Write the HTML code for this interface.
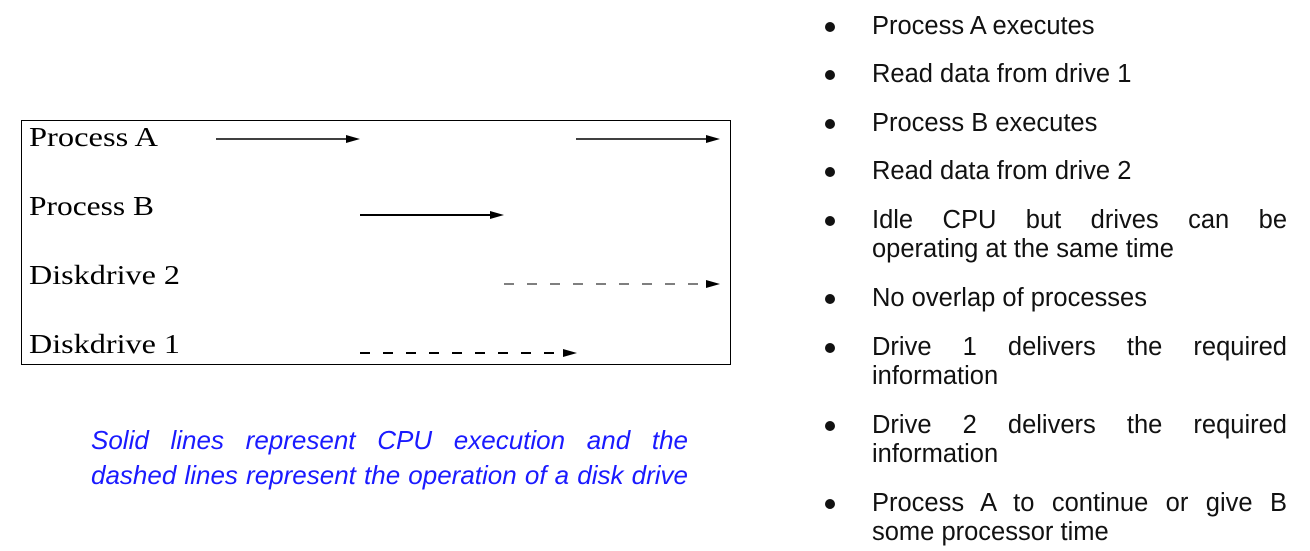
<!DOCTYPE html>
<html><head><meta charset="utf-8"><style>
body{margin:0;width:1310px;height:551px;background:#fff;position:relative;overflow:hidden;font-family:"Liberation Sans",Arial,sans-serif}
.b{position:absolute;left:872px;width:415px;font-size:25.5px;line-height:29px;color:#111;text-align:justify;text-align-last:left}
.d{position:absolute;left:825px;width:10px;height:10px;border-radius:50%;background:#111}
.cap{position:absolute;left:91px;width:597px;font-size:26px;line-height:35px;color:#1a1aff;font-style:italic;text-align:justify;text-align-last:justify;white-space:nowrap}
</style></head><body>
<svg width="740" height="370" style="position:absolute;left:0;top:0">
<rect x="21.5" y="120.5" width="709" height="244" fill="none" stroke="#000" stroke-width="1"/>
<g font-family="Liberation Serif,serif" font-size="27" fill="#000">
<text x="29" y="146" textLength="129" lengthAdjust="spacingAndGlyphs">Process A</text>
<text x="29" y="215" textLength="125" lengthAdjust="spacingAndGlyphs">Process B</text>
<text x="29" y="284" textLength="151" lengthAdjust="spacingAndGlyphs">Diskdrive 2</text>
<text x="29" y="353" textLength="151" lengthAdjust="spacingAndGlyphs">Diskdrive 1</text>
</g>
<g stroke="#000" stroke-width="1.5">
<line x1="216" y1="139" x2="350" y2="139"/>
<line x1="576" y1="139" x2="710" y2="139"/>
<line x1="360" y1="215" x2="494" y2="215" stroke-width="2"/>
<line x1="504" y1="284" x2="700" y2="284" stroke-dasharray="10,13" stroke="#555"/>
<line x1="360" y1="353" x2="560" y2="353" stroke-dasharray="10,13" stroke-width="2"/>
</g>
<g fill="#000">
<polygon points="346,135 360,139 346,143"/>
<polygon points="706,135 720,139 706,143"/>
<polygon points="490,211 504,215 490,219"/>
<polygon points="706,280 720,284 706,288"/>
<polygon points="563,349 577,353 563,357"/>
</g>
</svg>
<div class="cap" style="top:423px">Solid lines represent CPU execution and the</div>
<div class="cap" style="top:458px">dashed lines represent the operation of a disk drive</div>
<div class="d" style="top:22px"></div><div class="b" style="top:12px">Process A executes</div>
<div class="d" style="top:70px"></div><div class="b" style="top:60px">Read data from drive 1</div>
<div class="d" style="top:119px"></div><div class="b" style="top:109px">Process B executes</div>
<div class="d" style="top:167px"></div><div class="b" style="top:157px">Read data from drive 2</div>
<div class="d" style="top:216px"></div><div class="b" style="top:206px">Idle CPU but drives can be operating at the same time</div>
<div class="d" style="top:294px"></div><div class="b" style="top:284px">No overlap of processes</div>
<div class="d" style="top:343px"></div><div class="b" style="top:333px">Drive 1 delivers the required information</div>
<div class="d" style="top:421px"></div><div class="b" style="top:411px">Drive 2 delivers the required information</div>
<div class="d" style="top:499px"></div><div class="b" style="top:489px">Process A to continue or give B some processor time</div>
</body></html>
